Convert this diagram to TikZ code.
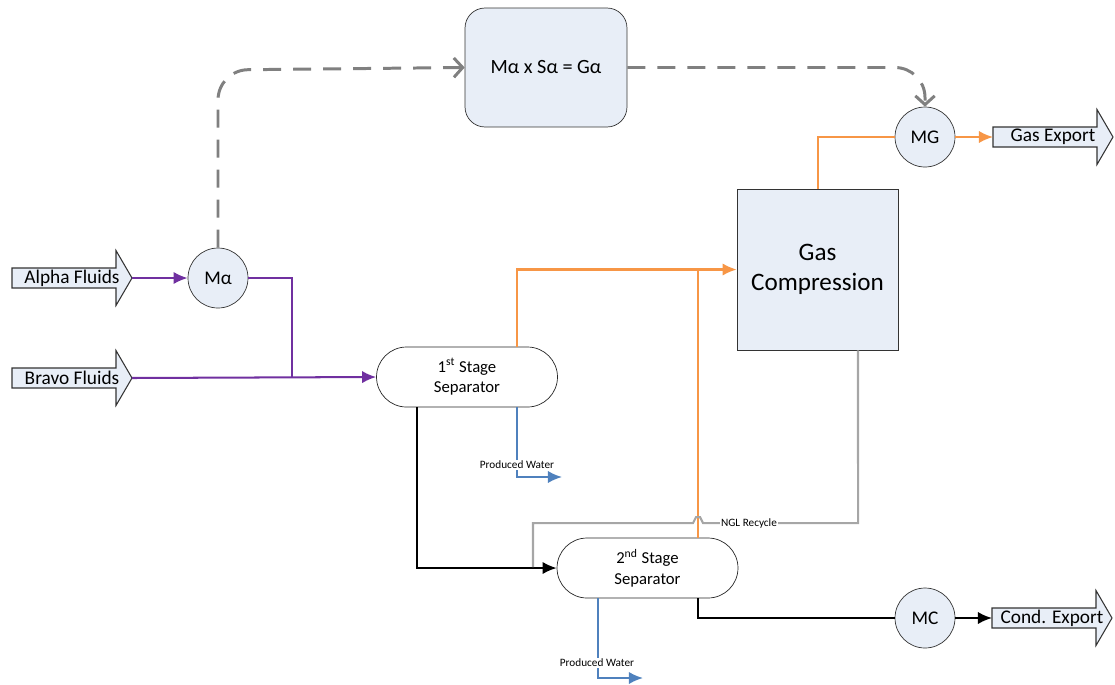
\documentclass[tikz,border=0pt]{standalone}
\usepackage{fontspec}
\setmainfont{Carlito}
\usetikzlibrary{shapes.misc,arrows.meta}
\definecolor{boxblue}{HTML}{E8EEF7}
\definecolor{flowpurple}{HTML}{7030A0}
\definecolor{floworange}{HTML}{F79646}
\definecolor{flowblue}{HTML}{4F81BD}
\definecolor{flowgray}{HTML}{A6A6A6}
\definecolor{signalgray}{HTML}{808080}
\begin{document}
\begin{tikzpicture}
    [
    x=0.02cm, y=-0.02cm,
    meter/.style={circle,draw=black!80,fill=boxblue,inner sep=0pt,minimum size=1.2cm,font=\fontsize{11}{13}\selectfont},
    separator/.style={rounded rectangle,draw=black!85,fill=white,inner sep=0pt,minimum width=3.62cm,minimum height=1.2cm,align=center,font=\fontsize{9.5}{11.5}\selectfont},
    streamshape/.style={draw=black!80,fill=boxblue,line width=0.6pt,line join=miter},
    streamtext/.style={inner sep=0pt,font=\fontsize{11}{13}\selectfont},
    smalllabel/.style={fill=white,inner sep=0.5pt,font=\fontsize{6.4}{7.5}\selectfont},
    purpleflow/.style={flowpurple,line width=1.15pt},
    orangeflow/.style={floworange,line width=1.15pt},
    blueflow/.style={flowblue,line width=1.15pt},
    blackflow/.style={black,line width=1.15pt},
    grayflow/.style={flowgray,line width=1.15pt},
    signal/.style={signalgray,line width=1.7pt,dash pattern=on 0.36cm off 0.24cm,rounded corners=0.6cm},
    flowtip/.style={-{Latex[length=8pt,width=7pt]}},
    opentip/.style={-{Straight Barb[length=5pt,width=11pt]}}
    ]
    \useasboundingbox (0,0) rectangle (1115,684);

    % meters and equipment
    \node (ma) at (218,278) [meter] {Mα};
    \node (mg) at (925,137) [meter] {MG};
    \node (mc) at (925,618) [meter] {MC};
    \node (calc) at (546,67.5) [rectangle,rounded corners=0.4cm,draw=black!80,fill=boxblue,minimum width=3.24cm,minimum height=2.38cm,font=\fontsize{11.5}{13}\selectfont] {Mα x Sα = Gα};
    \node (compr) at (817.5,269.5) [rectangle,draw=black!80,fill=boxblue,minimum width=3.22cm,minimum height=3.22cm,align=center,font=\fontsize{14.3}{17}\selectfont] {Gas\\Compression};
    \node (sep1) at (467,377) [separator] {1\textsuperscript{st} Stage\\Separator};
    \node (sep2) at (647.5,568) [separator] {2\textsuperscript{nd} Stage\\Separator};

    % feed and export streams (tip x, y)
    \foreach \name/\tx/\ty/\txt in {alphaIn/132/278/Alpha Fluids, bravoIn/132/378/Bravo Fluids,
                                    gasOut/1113/137/Gas Export, condOut/1112/618/Cond. Export}
    {
      \draw [streamshape] (\tx,\ty) -- ++(-16,-27.5) -- ++(0,17.5) -- ++(-104,0) -- ++(0,20)
        -- ++(104,0) -- ++(0,17.5) -- cycle;
      \coordinate (\name-tip) at (\tx,\ty);
      \coordinate (\name-tail) at (\tx-120,\ty);
      \node (\name) at (\tx-60,\ty) [streamtext] {\txt};
    }

    % free ends
    \coordinate (pw1) at (562,477);
    \coordinate (pw2) at (643,678);
    \coordinate (nglJoin) at (533,567);
    \coordinate (sep2gas) at ([xshift=1.01cm]sep2.north);

    % allocation signal
    \draw [signal,opentip] (ma.north) -- (218,70) -- (calc.west);
    \draw [signal,opentip] (calc.east) -- (925,67.5) -- (mg.north);

    % inlet
    \draw [purpleflow,flowtip] (alphaIn-tip) -- (ma.west);
    \draw [purpleflow] (ma.east) -| (292,377);
    \draw [purpleflow,flowtip] (bravoIn-tip) -- (sep1.west);

    % gas
    \draw [orangeflow,flowtip] ([xshift=1cm]sep1.north) |- (compr.west);
    \draw [orangeflow] (sep2gas) -- (sep2gas |- compr.west);
    \draw [orangeflow] (compr.north) |- (mg.west);
    \draw [orangeflow,flowtip] (mg.east) -- (gasOut-tail);

    % liquids
    \draw [blackflow,flowtip] ([xshift=-1cm]sep1.south) |- (sep2.west);
    \draw [blackflow] ([xshift=1.01cm]sep2.south) |- (mc.west);
    \draw [blackflow,flowtip] (mc.east) -- (condOut-tail);

    % water
    \draw [blueflow,flowtip] ([xshift=1cm]sep1.south) |- (pw1);
    \node (pw1lbl) at (517,465) [smalllabel] {Produced Water};
    \draw [blueflow,flowtip] ([xshift=-1cm]sep2.south) |- (pw2);
    \node (pw2lbl) at (597,663) [smalllabel] {Produced Water};

    % NGL recycle
    \draw [grayflow] ([xshift=0.81cm]compr.south) -- (858,523) -- (703,523)
      -- (700,517) -- (696,517) -- (693,523) -- (533,523) -- (nglJoin);
    \node (ngllbl) at (749,523) [smalllabel] {NGL Recycle};
\end{tikzpicture}
\end{document}
